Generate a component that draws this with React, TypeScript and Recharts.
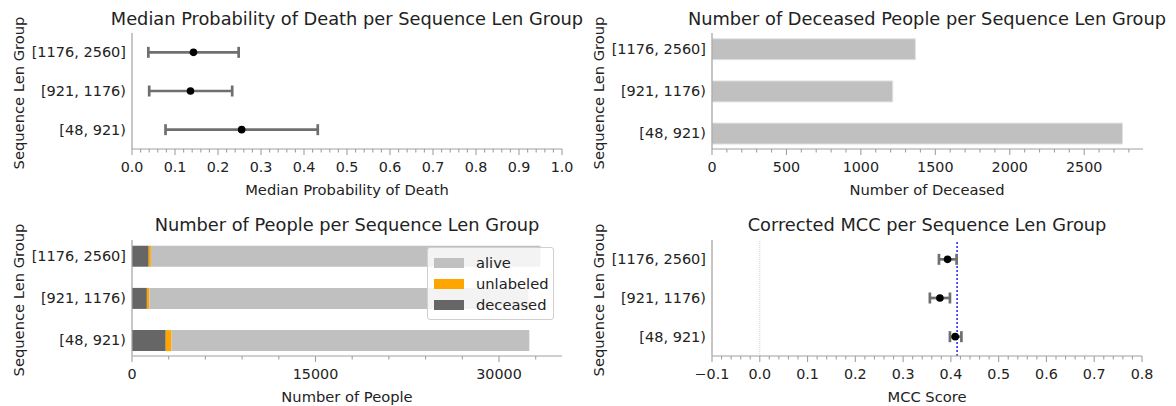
import React from 'react';
import { ScatterChart, Scatter, ErrorBar, XAxis, YAxis, BarChart, Bar, ReferenceLine, Legend } from 'recharts';

const FONT = '"DejaVu Sans", sans-serif';
const INK = '#222';
const SPINE = '#a0a0a0';
const WHISKER = '#6f6f6f';

// sequence length groups, bottom to top
const groups = ['[48, 921)', '[921, 1176)', '[1176, 2560]'];
const groupPos = groups.map((_, i) => i);

// median probability of death with its spread
const medianProb = [0.255, 0.136, 0.143];
const probLow = [0.078, 0.04, 0.038];
const probHigh = [0.432, 0.233, 0.248];

// people counts
const deceased = [2757, 1214, 1366];
const unlabeled = [470, 200, 180];
const alive = [29250, 31000, 31840];

// corrected MCC
const mccScore = [0.409, 0.377, 0.393];
const mccLow = [0.398, 0.356, 0.375];
const mccHigh = [0.422, 0.398, 0.412];
const mccOverall = 0.413;

// tick labels
const probTicks = [0, 0.1, 0.2, 0.3, 0.4, 0.5, 0.6, 0.7, 0.8, 0.9, 1.0];
const deceasedTicks = [0, 500, 1000, 1500, 2000, 2500];
const peopleTicks = [0, 15000, 30000];
const mccTicks = [-0.1, 0, 0.1, 0.2, 0.3, 0.4, 0.5, 0.6, 0.7, 0.8];

const legendItems = [
  { name: 'alive', color: '#c0c0c0' },
  { name: 'unlabeled', color: '#ffa500' },
  { name: 'deceased', color: '#666666' },
];

const probRows = groups.map((_, i) => ({
  pos: i,
  x: medianProb[i],
  err: [medianProb[i] - probLow[i], probHigh[i] - medianProb[i]],
}));
const countRows = groups.map((_, i) => ({
  pos: i,
  deceased: deceased[i],
  unlabeled: unlabeled[i],
  alive: alive[i],
}));
const mccRows = groups.map((_, i) => ({
  pos: i,
  x: mccScore[i],
  err: [mccScore[i] - mccLow[i], mccHigh[i] - mccScore[i]],
}));

// majors plus minor ticks between them
function withMinor(start: number, step: number, max: number) {
  const out: number[] = [];
  for (let i = 0; start + i * step <= max + 1e-9; i++) out.push(+(start + i * step).toFixed(6));
  return out;
}

function makeTick(majors: number[], fmt: (v: number) => string) {
  return (props: any) => {
    const { x, y, payload } = props;
    const v = payload.value;
    const major = majors.some((m) => Math.abs(m - v) < 1e-6);
    return (
      <g>
        <line x1={x} x2={x} y1={y} y2={y + (major ? 6 : 3.5)} stroke={SPINE} strokeWidth={1.1} />
        {major && (
          <text x={x} y={y + 13} dy="0.71em" textAnchor="middle" fontSize={14.3} fill={INK} fontFamily={FONT}>
            {fmt(v)}
          </text>
        )}
      </g>
    );
  };
}

const fmt1 = (v: number) => (v < 0 ? '\u2212' + Math.abs(v).toFixed(1) : v.toFixed(1));
const fmtInt = (v: number) => String(Math.round(v));

const dot = (p: any) => <circle cx={p.cx} cy={p.cy} r={3.8} fill="#000" />;

function yAxis(domain: number[], reversed = false) {
  return (
    <YAxis
      type="number"
      dataKey="pos"
      domain={domain}
      ticks={groupPos}
      interval={0}
      reversed={reversed}
      allowDataOverflow
      tickFormatter={(v: number) => groups[v]}
      width={132}
      tickLine={false}
      tickSize={0}
      tickMargin={6}
      tick={{ fontSize: 14.5, fill: INK, fontFamily: FONT }}
      axisLine={{ stroke: SPINE, strokeWidth: 1.2 }}
    />
  );
}

function xAxis(domain: number[], ticks: number[], majors: number[], fmt: (v: number) => string, height: number, dataKey?: string) {
  return (
    <XAxis
      type="number"
      dataKey={dataKey}
      domain={domain}
      ticks={ticks}
      interval={0}
      allowDataOverflow
      tickLine={false}
      tickSize={0}
      tickMargin={0}
      tick={makeTick(majors, fmt)}
      height={height}
      axisLine={{ stroke: SPINE, strokeWidth: 1.2 }}
    />
  );
}

function Text({ x, y, size, children, rotate }: any) {
  return (
    <div
      style={{
        position: 'absolute',
        left: x - 300,
        top: y - 12,
        width: 600,
        height: 24,
        lineHeight: '24px',
        textAlign: 'center',
        fontSize: size,
        color: INK,
        fontFamily: FONT,
        whiteSpace: 'nowrap',
        transform: rotate ? 'rotate(-90deg)' : undefined,
      }}
    >
      {children}
    </div>
  );
}

function PeopleLegend() {
  return (
    <div
      style={{
        width: 125,
        padding: '4px 0',
        background: 'rgba(255,255,255,0.8)',
        border: '1px solid #d0d0d0',
        borderRadius: 3,
        fontFamily: FONT,
        fontSize: 14.7,
        color: INK,
      }}
    >
      {legendItems.map((it) => (
        <div key={it.name} style={{ display: 'flex', alignItems: 'center', height: 21 }}>
          <span style={{ display: 'inline-block', width: 30, height: 10, background: it.color, marginLeft: 6, marginRight: 12 }} />
          <span>{it.name}</span>
        </div>
      ))}
    </div>
  );
}

export default function App() {
  return (
    <div style={{ position: 'absolute', left: 0, top: 0, width: 1176, height: 406, background: '#fff', overflow: 'hidden' }}>
      <div style={{ position: 'absolute', left: 0, top: 0 }}>
        <ScatterChart width={588} height={203} margin={{ top: 33, right: 26, bottom: 0, left: 0 }}>
          {xAxis([0, 1], withMinor(0, 0.02, 1), probTicks, fmt1, 54, 'x')}
          {yAxis([-0.5, 2.5])}
          <Scatter data={probRows} shape={dot} isAnimationActive={false}>
            <ErrorBar dataKey="err" direction="x" width={5.5} stroke={WHISKER} strokeWidth={2.7} isAnimationActive={false} />
          </Scatter>
        </ScatterChart>
      </div>

      <div style={{ position: 'absolute', left: 580, top: 0 }}>
        <BarChart layout="vertical" width={596} height={203} data={countRows} margin={{ top: 33, right: 33, bottom: 0, left: 0 }}>
          {xAxis([0, 2895], withMinor(0, 100, 2895), deceasedTicks, fmtInt, 54)}
          {yAxis([-0.375, 2.375], true)}
          <Bar dataKey="deceased" fill="#c0c0c0" stroke="#e2e2e2" strokeWidth={1} barSize={21} isAnimationActive={false} />
        </BarChart>
      </div>

      <div style={{ position: 'absolute', left: 0, top: 207 }}>
        <BarChart layout="vertical" width={588} height={199} data={countRows} margin={{ top: 33, right: 26, bottom: 0, left: 0 }}>
          {xAxis([0, 35150], withMinor(0, 3000, 35150), peopleTicks, fmtInt, 50)}
          {yAxis([-0.375, 2.375], true)}
          <Bar dataKey="deceased" stackId="n" fill="#666666" barSize={21} isAnimationActive={false} />
          <Bar dataKey="unlabeled" stackId="n" fill="#ffa500" barSize={21} isAnimationActive={false} />
          <Bar dataKey="alive" stackId="n" fill="#c0c0c0" barSize={21} isAnimationActive={false} />
          <Legend
            layout="horizontal"
            verticalAlign="middle"
            align="center"
            content={() => <PeopleLegend />}
            wrapperStyle={{ left: 427, top: 40, width: 127 }}
          />
        </BarChart>
      </div>

      <div style={{ position: 'absolute', left: 580, top: 207 }}>
        <ScatterChart width={596} height={199} margin={{ top: 33, right: 34, bottom: 0, left: 0 }}>
          {xAxis([-0.1, 0.8], withMinor(-0.1, 0.02, 0.8), mccTicks, fmt1, 50, 'x')}
          {yAxis([-0.5, 2.5])}
          <ReferenceLine x={0} stroke="#c8c8c8" strokeWidth={0.8} strokeDasharray="1 1" />
          <ReferenceLine x={mccOverall} stroke="#2020ff" strokeWidth={1.5} strokeDasharray="2 2" />
          <Scatter data={mccRows} shape={dot} isAnimationActive={false}>
            <ErrorBar dataKey="err" direction="x" width={5.5} stroke={WHISKER} strokeWidth={2.7} isAnimationActive={false} />
          </Scatter>
        </ScatterChart>
      </div>

      <Text x={347} y={19} size={17.8}>Median Probability of Death per Sequence Len Group</Text>
      <Text x={927} y={19} size={17.8}>Number of Deceased People per Sequence Len Group</Text>
      <Text x={347} y={225} size={17.8}>Number of People per Sequence Len Group</Text>
      <Text x={927} y={225} size={17.8}>Corrected MCC per Sequence Len Group</Text>

      <Text x={347} y={190} size={14.7}>Median Probability of Death</Text>
      <Text x={927} y={190} size={14.7}>Number of Deceased</Text>
      <Text x={347} y={397} size={14.7}>Number of People</Text>
      <Text x={927} y={397} size={14.7}>MCC Score</Text>

      <Text x={19} y={93} size={14.7} rotate>Sequence Len Group</Text>
      <Text x={599} y={93} size={14.7} rotate>Sequence Len Group</Text>
      <Text x={19} y={300} size={14.7} rotate>Sequence Len Group</Text>
      <Text x={599} y={300} size={14.7} rotate>Sequence Len Group</Text>
    </div>
  );
}
